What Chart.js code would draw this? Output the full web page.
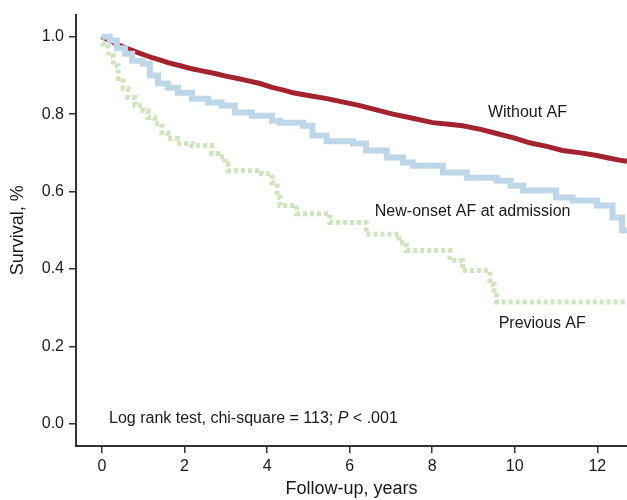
<!DOCTYPE html>
<html>
<head>
<meta charset="utf-8">
<script src="https://cdn.jsdelivr.net/npm/chart.js@4.4.1/dist/chart.umd.min.js"></script>
<style>
  html, body { margin: 0; padding: 0; background: #fff; }
  #wrap { width: 627px; height: 500px; position: relative; }
</style>
</head>
<body>
<div id="wrap"><canvas id="km"></canvas></div>
<script>
// Kaplan-Meier curves (years, survival)
const withoutTimes = [0, 0.2, 0.4, 0.6, 0.87, 1.05, 1.21, 1.4, 1.6, 1.9, 2.18, 2.45, 2.74, 3.0, 3.29, 3.55, 3.83, 4.12, 4.4, 4.63, 5.0, 5.45, 5.85, 6.25, 6.65, 7.05, 7.5, 8.01, 8.4, 8.74, 9.2, 9.56, 10.0, 10.36, 10.8, 11.16, 11.6, 11.99, 12.3, 12.6, 12.72];
const withoutSurv  = [1.0, 0.99, 0.978, 0.97, 0.959, 0.952, 0.946, 0.94, 0.933, 0.925, 0.917, 0.911, 0.905, 0.898, 0.892, 0.886, 0.879, 0.869, 0.862, 0.855, 0.848, 0.84, 0.831, 0.822, 0.811, 0.8, 0.79, 0.778, 0.774, 0.77, 0.76, 0.75, 0.738, 0.726, 0.716, 0.706, 0.7, 0.693, 0.686, 0.68, 0.678];

const newOnsetTimes = [0, 0.19, 0.36, 0.56, 0.73, 0.99, 1.16, 1.36, 1.6, 1.84, 2.18, 2.57, 2.9, 3.22, 3.63, 4.12, 4.31, 4.87, 5.1, 5.44, 6.08, 6.4, 6.9, 7.29, 7.53, 8.26, 8.84, 9.56, 9.9, 10.2, 11.0, 11.4, 11.99, 12.37, 12.6, 12.72];
const newOnsetSurv  = [1.0, 0.99, 0.97, 0.956, 0.938, 0.93, 0.9, 0.879, 0.868, 0.855, 0.84, 0.83, 0.822, 0.804, 0.796, 0.783, 0.778, 0.77, 0.745, 0.73, 0.724, 0.706, 0.688, 0.675, 0.667, 0.649, 0.636, 0.628, 0.615, 0.603, 0.585, 0.577, 0.564, 0.533, 0.5, 0.5];

const previousTimes = [0, 0.02, 0.15, 0.27, 0.39, 0.51, 0.63, 0.8, 0.99, 1.11, 1.28, 1.45, 1.6, 1.82, 2.18, 2.66, 2.81, 2.98, 3.05, 3.7, 3.87, 4.12, 4.24, 4.31, 4.72, 5.52, 6.4, 7.2, 7.38, 8.43, 8.74, 9.4, 9.5, 9.56, 12.72];
const previousSurv  = [1.0, 0.982, 0.951, 0.925, 0.892, 0.866, 0.843, 0.822, 0.809, 0.791, 0.775, 0.752, 0.737, 0.724, 0.719, 0.698, 0.69, 0.672, 0.654, 0.654, 0.646, 0.623, 0.585, 0.564, 0.543, 0.52, 0.49, 0.468, 0.448, 0.422, 0.396, 0.36, 0.345, 0.315, 0.315];

const xTicks = [0, 2, 4, 6, 8, 10, 12];
const yTicks = [0.0, 0.2, 0.4, 0.6, 0.8, 1.0];

const FONT = "'Liberation Sans', Arial, Helvetica, sans-serif";
const INK = '#1a1a1a';

function toPoints(times, surv) {
    return times.map((t, i) => ({ x: t, y: surv[i] }));
}

// curve labels and the log-rank note, placed in data coordinates
const curveLabels = {
    id: 'curveLabels',
    afterDatasetsDraw(chart) {
        const { ctx, scales: { x, y } } = chart;
        ctx.save();
        ctx.fillStyle = INK;
        ctx.font = '16px ' + FONT;
        ctx.textBaseline = 'middle';
        ctx.textAlign = 'left';
        ctx.fillText('Without AF', x.getPixelForValue(9.35), y.getPixelForValue(0.804));
        ctx.fillText('New-onset AF at admission', x.getPixelForValue(6.61), y.getPixelForValue(0.548));
        ctx.fillText('Previous AF', x.getPixelForValue(9.61), y.getPixelForValue(0.259));

        // log rank line with italic P
        let px = x.getPixelForValue(0.17);
        const py = y.getPixelForValue(0.014);
        const part1 = 'Log rank test, chi-square = 113; ';
        ctx.fillText(part1, px, py);
        px += ctx.measureText(part1).width;
        ctx.font = 'italic 16px ' + FONT;
        ctx.fillText('P', px, py);
        px += ctx.measureText('P').width;
        ctx.font = '16px ' + FONT;
        ctx.fillText(' < .001', px, py);
        ctx.restore();
    }
};

const ctx = document.getElementById('km').getContext('2d');
new Chart(ctx, {
    type: 'line',
    data: {
        datasets: [
            {
                label: 'New-onset AF at admission',
                data: toPoints(newOnsetTimes, newOnsetSurv),
                borderColor: '#bdd7e9',
                borderWidth: 6,
                stepped: true,
                pointRadius: 0,
                order: 0
            },
            {
                label: 'Without AF',
                data: toPoints(withoutTimes, withoutSurv),
                borderColor: '#a3232f',
                borderWidth: 5,
                tension: 0,
                pointRadius: 0,
                order: 1
            },
            {
                label: 'Previous AF',
                data: toPoints(previousTimes, previousSurv),
                borderColor: '#cfe5bd',
                borderWidth: 5,
                borderDash: [4, 3],
                stepped: true,
                pointRadius: 0,
                order: 2
            }
        ]
    },
    options: {
        responsive: true,
        maintainAspectRatio: false,
        animation: false,
        layout: { padding: { top: 14, right: 0, left: 0, bottom: 0 } },
        plugins: {
            legend: { display: false },
            tooltip: { enabled: false }
        },
        scales: {
            x: {
                type: 'linear',
                min: -0.63,
                max: 12.72,
                afterBuildTicks: (scale) => { scale.ticks = xTicks.map(v => ({ value: v })); },
                afterFit: (scale) => { scale.height = 54; },
                grid: { display: true, drawOnChartArea: false, drawTicks: true, tickLength: 7, color: '#333', lineWidth: 1.5 },
                border: { display: true, color: '#333', width: 2 },
                ticks: { color: INK, font: { family: FONT, size: 16 }, padding: 4, maxRotation: 0 },
                title: { display: true, text: 'Follow-up, years', color: INK, font: { family: FONT, size: 18 }, padding: { top: 0, bottom: 0 } }
            },
            y: {
                type: 'linear',
                min: -0.057,
                max: 1.057,
                afterBuildTicks: (scale) => { scale.ticks = yTicks.map(v => ({ value: v })); },
                afterFit: (scale) => { scale.width = 76; },
                grid: { display: true, drawOnChartArea: false, drawTicks: true, tickLength: 7, color: '#333', lineWidth: 1.5 },
                border: { display: true, color: '#333', width: 2 },
                ticks: { color: INK, font: { family: FONT, size: 16 }, padding: 5, callback: (v) => Number(v).toFixed(1) },
                title: { display: true, text: 'Survival, %', color: INK, font: { family: FONT, size: 18 }, padding: { top: 7, bottom: 0 } }
            }
        }
    },
    plugins: [curveLabels]
});
</script>
</body>
</html>
